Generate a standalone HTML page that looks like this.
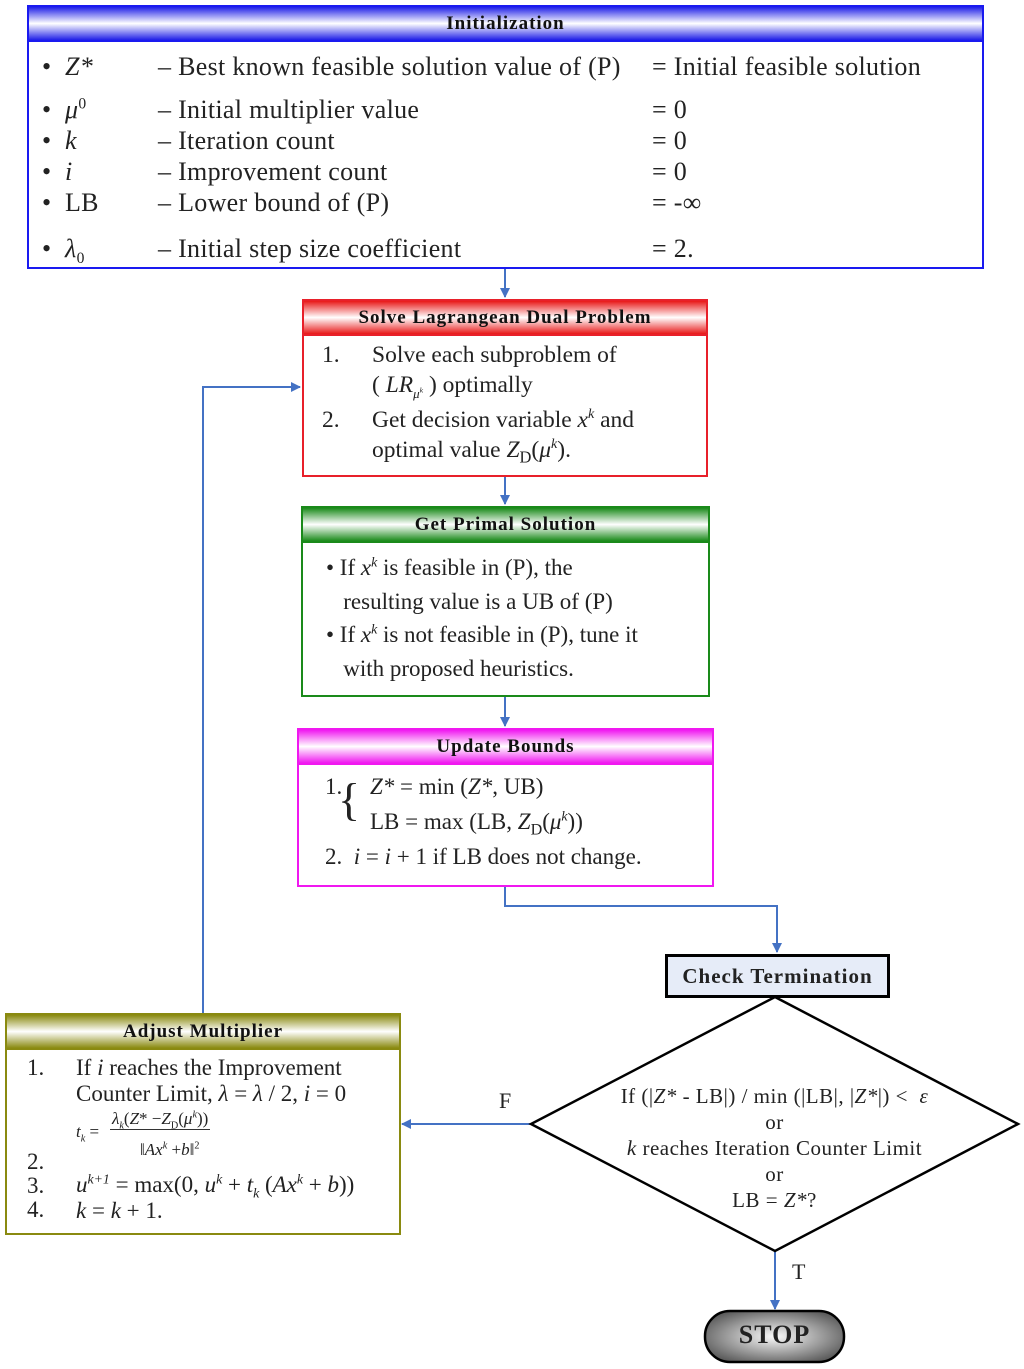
<!DOCTYPE html>
<html><head><meta charset="utf-8"><style>
body{margin:0;width:1024px;height:1369px;background:#fff;position:relative;font-family:"Liberation Serif",serif;color:#222;overflow:hidden}
.box{position:absolute;background:#fff;box-sizing:border-box}
.hd{position:absolute;left:0;right:0;top:0;height:33px;text-align:center;font-weight:bold;font-size:19px;line-height:33px;letter-spacing:1px;color:#111}
.t{position:absolute;white-space:nowrap}
i{font-style:italic}
sup,sub{font-size:60%;line-height:0}
.r{font-size:26px;letter-spacing:0.3px}
svg{position:absolute;left:0;top:0}
</style></head><body>
<svg width="1024" height="1369">
<defs><marker id="a" markerWidth="10" markerHeight="10" refX="9" refY="5" orient="auto" markerUnits="userSpaceOnUse"><path d="M0,0 L10,5 L0,10z" fill="#4472c4"/></marker></defs>
<g stroke="#4472c4" stroke-width="2" fill="none">
<path d="M505 268 V297" marker-end="url(#a)"/>
<path d="M505 476 V504" marker-end="url(#a)"/>
<path d="M505 696 V726" marker-end="url(#a)"/>
<path d="M505 886 V906 H777 V952" marker-end="url(#a)"/>
<path d="M531 1124 H402" marker-end="url(#a)"/>
<path d="M775 1251 V1309" marker-end="url(#a)"/>
<path d="M203 1013 V387 H300" marker-end="url(#a)"/>
</g>
<polygon points="775,997 1018,1124 775,1251 531,1124" fill="#fff" stroke="#000" stroke-width="2.5"/>
<defs><radialGradient id="g" cx="50%" cy="50%" r="60%"><stop offset="0" stop-color="#fafafa"/><stop offset="1" stop-color="#555"/></radialGradient></defs>
<rect x="705" y="1311" width="139" height="51" rx="25" fill="url(#g)" stroke="#000" stroke-width="2.5"/>
</svg>

<div class="box" style="left:27px;top:5px;width:957px;height:264px;border:2px solid #1a1af0">
<div class="hd" style="background:linear-gradient(#2020e8,#fff 50%,#2020e8);border-bottom:2px solid #1a1af0">Initialization</div>
</div>
<div class="t r" style="left:42px;top:52px">•&nbsp; <i>Z*</i></div>
<div class="t r" style="left:42px;top:95px">•&nbsp; <i>μ</i><sup>0</sup></div>
<div class="t r" style="left:42px;top:126px">•&nbsp; <i>k</i></div>
<div class="t r" style="left:42px;top:157px">•&nbsp; <i>i</i></div>
<div class="t r" style="left:42px;top:188px">•&nbsp; LB</div>
<div class="t r" style="left:42px;top:234px">•&nbsp; <i>λ</i><sub>0</sub></div>
<div class="t r" style="left:158px;top:52px">– Best known feasible solution value of (P)</div>
<div class="t r" style="left:158px;top:95px">– Initial multiplier value</div>
<div class="t r" style="left:158px;top:126px">– Iteration count</div>
<div class="t r" style="left:158px;top:157px">– Improvement count</div>
<div class="t r" style="left:158px;top:188px">– Lower bound of (P)</div>
<div class="t r" style="left:158px;top:234px">– Initial step size coefficient</div>
<div class="t r" style="left:652px;top:52px">= Initial feasible solution</div>
<div class="t r" style="left:652px;top:95px">= 0</div>
<div class="t r" style="left:652px;top:126px">= 0</div>
<div class="t r" style="left:652px;top:157px">= 0</div>
<div class="t r" style="left:652px;top:188px">= -∞</div>
<div class="t r" style="left:652px;top:234px">= 2.</div>

<div class="box" style="left:302px;top:299px;width:406px;height:178px;border:2px solid #e8202a">
<div class="hd" style="background:linear-gradient(#e81818,#fff 50%,#e81818);border-bottom:2px solid #e8202a">Solve Lagrangean Dual Problem</div>
</div>
<div class="t" style="left:322px;top:340px;font-size:23.5px;line-height:30px">1.</div>
<div class="t" style="left:372px;top:340px;font-size:23.5px;line-height:30px">Solve each subproblem of<br>( <i>LR</i><sub style="font-size:55%"><i>μ<sup>k</sup></i></sub> ) optimally</div>
<div class="t" style="left:322px;top:405px;font-size:23.5px;line-height:30px">2.</div>
<div class="t" style="left:372px;top:405px;font-size:23.5px;line-height:30px">Get decision variable <i>x<sup>k</sup></i> and<br>optimal value <i>Z</i><sub style="font-size:70%">D</sub>(<i>μ<sup>k</sup></i>).</div>

<div class="box" style="left:301px;top:506px;width:409px;height:191px;border:2px solid #1a8a1a">
<div class="hd" style="background:linear-gradient(#1a8a1a,#fff 50%,#1a8a1a);border-bottom:2px solid #1a8a1a">Get Primal Solution</div>
</div>
<div class="t" style="left:326px;top:551px;font-size:23px;line-height:33.5px">• If <i>x<sup>k</sup></i> is feasible in (P), the<br>&nbsp;&nbsp; resulting value is a UB of (P)<br>• If <i>x<sup>k</sup></i> is not feasible in (P), tune it<br>&nbsp;&nbsp; with proposed heuristics.</div>

<div class="box" style="left:297px;top:728px;width:417px;height:159px;border:2px solid #f018f0">
<div class="hd" style="background:linear-gradient(#f018f0,#fff 50%,#f018f0);border-bottom:2px solid #f018f0">Update Bounds</div>
</div>
<div class="t" style="left:325px;top:774px;font-size:23px">1.</div>
<div class="t" style="left:338px;top:770px;font-size:46px;line-height:60px;font-weight:100">{</div>
<div class="t" style="left:370px;top:774px;font-size:23px"><i>Z*</i> = min (<i>Z*</i>, UB)</div>
<div class="t" style="left:370px;top:809px;font-size:23px">LB = max (LB, <i>Z</i><sub style="font-size:70%">D</sub>(<i>μ<sup>k</sup></i>))</div>
<div class="t" style="left:325px;top:844px;font-size:23px">2.&nbsp; <i>i</i> = <i>i</i> + 1 if LB does not change.</div>

<div class="box" style="left:665px;top:954px;width:225px;height:44px;border:3px solid #000;background:#e6ecf8;text-align:center;font-weight:bold;font-size:21px;line-height:38px;letter-spacing:1px">Check Termination</div>

<div class="t" style="left:531px;width:487px;top:1083px;text-align:center;font-size:21px;line-height:26px;letter-spacing:0.5px">If (|<i>Z*</i> - LB|) / min (|LB|, |<i>Z*</i>|) &lt;&nbsp; <i>ε</i><br>or<br><i>k</i> reaches Iteration Counter Limit<br>or<br>LB = <i>Z*</i>?</div>
<div class="t" style="left:499px;top:1088px;font-size:22px">F</div>
<div class="t" style="left:792px;top:1259px;font-size:22px">T</div>
<div class="t" style="left:705px;width:139px;top:1320px;text-align:center;font-weight:bold;font-size:26px;letter-spacing:1px">STOP</div>

<div class="box" style="left:5px;top:1013px;width:396px;height:222px;border:2px solid #8a8a10">
<div class="hd" style="background:linear-gradient(#8a8a10,#fff 50%,#8a8a10);border-bottom:2px solid #8a8a10">Adjust Multiplier</div>
</div>
<div class="t" style="left:27px;top:1055px;font-size:23px;line-height:26px">1.</div>
<div class="t" style="left:76px;top:1055px;font-size:23px;line-height:26px">If <i>i</i> reaches the Improvement<br>Counter Limit, <i>λ</i> = <i>λ</i> / 2, <i>i</i> = 0</div>
<div class="t" style="left:76px;top:1122px;font-size:17px"><i>t<sub>k</sub></i> =</div>
<div class="t" style="left:110px;top:1109px;font-size:17px;border-bottom:1px solid #333;padding:0 2px"><i>λ<sub>k</sub></i>(<i>Z</i>* −<i>Z</i><sub>D</sub>(<i>μ<sup>k</sup></i>))</div>
<div class="t" style="left:140px;top:1140px;font-size:17px">‖<i>Ax<sup>k</sup></i> +<i>b</i>‖<sup>2</sup></div>
<div class="t" style="left:27px;top:1150px;font-size:23px;line-height:24px">2.<br>3.<br>4.</div>
<div class="t" style="left:76px;top:1172px;font-size:23px;line-height:26px"><i>u<sup>k+1</sup></i> = max(0, <i>u<sup>k</sup></i> + <i>t<sub>k</sub></i> (<i>Ax<sup>k</sup></i> + <i>b</i>))<br><i>k</i> = <i>k</i> + 1.</div>
</body></html>
